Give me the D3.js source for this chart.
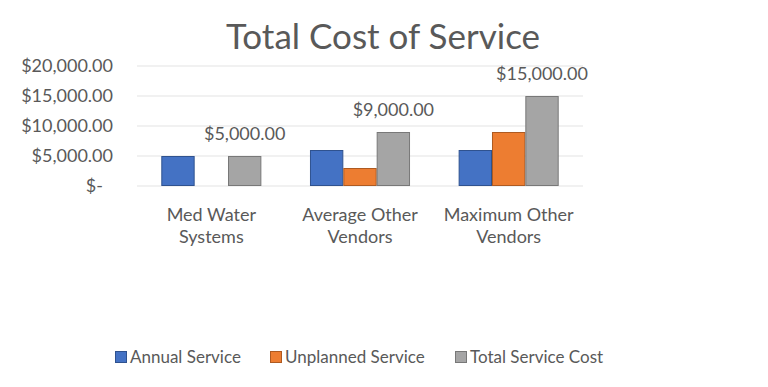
<!DOCTYPE html>
<html>
<head>
<meta charset="utf-8">
<script src="https://cdn.jsdelivr.net/npm/d3@7"></script>
<style>
  body { margin: 0; background: #fff; }
  text { font-family: Lato, "Open Sans", sans-serif; fill: #595959; }
</style>
</head>
<body>
<div id="chart"></div>
<script>
// Données
const categories = [["Med Water", "Systems"], ["Average Other", "Vendors"], ["Maximum Other", "Vendors"]];
const seriesNames = ["Annual Service", "Unplanned Service", "Total Service Cost"];
const annualService = [5000, 6000, 6000];
const unplannedService = [0, 3000, 9000];
const totalServiceCost = [5000, 9000, 15000];
const yTicks = [0, 5000, 10000, 15000, 20000];

const colors = ["#4472C4", "#ED7D31", "#A5A5A5"];
const strokes = ["#2F528F", "#AE5A21", "#787878"];

const width = 768, height = 387;
const margin = { top: 66, right: 185, bottom: 201, left: 137 };
const innerW = width - margin.left - margin.right;
const innerH = height - margin.top - margin.bottom;

const svg = d3.select("#chart").append("svg")
    .attr("width", width).attr("height", height);

// Titre
svg.append("text")
    .attr("x", 383).attr("y", 49)
    .attr("text-anchor", "middle")
    .style("font-size", "35px")
    .text("Total Cost of Service");

const g = svg.append("g").attr("transform", `translate(${margin.left},${margin.top})`);

const catKeys = categories.map(c => c.join(" "));
const x0 = d3.scaleBand().domain(catKeys).range([0, innerW]).paddingInner(0.327).paddingOuter(0.1635);
const x1 = d3.scaleBand().domain(seriesNames).range([0, x0.bandwidth()]);
const y = d3.scaleLinear().domain([0, 20000]).range([innerH, 0]);

// Grille
g.selectAll(".grid").data(yTicks).enter().append("line")
    .attr("x1", 0).attr("x2", innerW)
    .attr("y1", d => y(d)).attr("y2", d => y(d))
    .style("stroke", "#e3e3e3").style("stroke-width", 1);

// Axe Y
const fmt = d3.format(",.2f");
const yAxis = g.append("g").call(d3.axisLeft(y).tickValues(yTicks).tickSize(0).tickPadding(24)
    .tickFormat(d => d === 0 ? "$-" : "$" + fmt(d)));
yAxis.select(".domain").remove();
yAxis.selectAll("text").style("font-size", "18px").attr("fill", "#595959")
    .attr("dx", d => d === 0 ? -10 : 0);

// Barres
const rows = catKeys.map((k, i) => ({
    key: k,
    values: [annualService[i], unplannedService[i], totalServiceCost[i]]
}));

const groups = g.selectAll(".cat").data(rows).enter().append("g")
    .attr("transform", d => `translate(${x0(d.key)},0)`);

groups.selectAll("rect")
    .data(d => d.values.map((v, j) => ({ series: seriesNames[j], value: v, j })))
    .enter().filter(d => d.value > 0).append("rect")
    .attr("x", d => x1(d.series) + 0.5)
    .attr("y", d => y(d.value) + 0.5)
    .attr("width", x1.bandwidth() - 1)
    .attr("height", d => innerH - y(d.value) - 1)
    .style("fill", d => colors[d.j])
    .style("stroke", d => strokes[d.j])
    .style("stroke-width", 1);

// Étiquettes (série totale)
groups.append("text")
    .attr("x", x1("Total Service Cost") + x1.bandwidth() / 2)
    .attr("y", d => y(d.values[2]) - 16)
    .attr("text-anchor", "middle")
    .style("font-size", "18px")
    .text(d => "$" + fmt(d.values[2]));

// Axe X : libellés sur deux lignes
categories.forEach((c, i) => {
    const t = g.append("text")
        .attr("x", x0(catKeys[i]) + x0.bandwidth() / 2)
        .attr("y", innerH + 35)
        .attr("text-anchor", "middle")
        .style("font-size", "18px");
    c.forEach((line, li) => {
        t.append("tspan").attr("x", x0(catKeys[i]) + x0.bandwidth() / 2)
            .attr("dy", li === 0 ? 0 : 22).text(line);
    });
});

// Légende
const legendX = [115, 270, 455];
const legend = svg.append("g");
seriesNames.forEach((s, i) => {
    legend.append("rect")
        .attr("x", legendX[i] + 0.5).attr("y", 351.5)
        .attr("width", 11).attr("height", 11)
        .style("fill", colors[i]).style("stroke", strokes[i]);
    legend.append("text")
        .attr("x", legendX[i] + 15).attr("y", 363)
        .style("font-size", "17px")
        .text(s);
});
</script>
</body>
</html>
